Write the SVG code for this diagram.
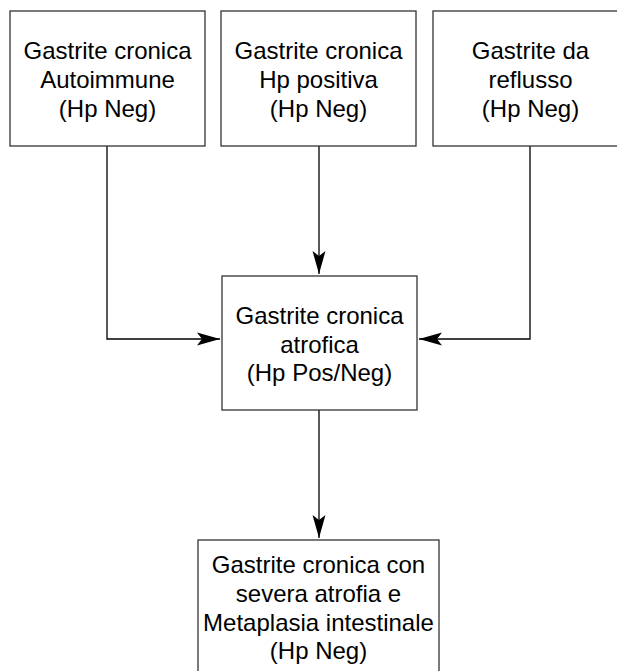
<svg xmlns="http://www.w3.org/2000/svg" width="617" height="671" viewBox="0 0 617 671">
<style>
.box{fill:#fff;stroke:#333;stroke-width:1.3}
.lbl{font-family:"Liberation Sans",Arial,Helvetica,sans-serif;font-size:24px;fill:#000;text-anchor:middle}
.edge{fill:none;stroke:#000;stroke-width:1.3}
</style>
<defs>
<marker id="arr" viewBox="-24 -8 25 16" markerWidth="25" markerHeight="16" refX="0" refY="0" orient="auto" markerUnits="userSpaceOnUse">
<path d="M0,0 L-23,-6.5 L-18,0 L-23,6.5 Z" fill="#000"/>
</marker>
</defs>
<rect width="617" height="671" fill="#fff"/>
<g id="edges">
<path class="edge" d="M107,146 V339 H220" marker-end="url(#arr)"/>
<path class="edge" d="M319,146 V274" marker-end="url(#arr)"/>
<path class="edge" d="M530,146 V339 H419" marker-end="url(#arr)"/>
<path class="edge" d="M319,410 V538" marker-end="url(#arr)"/>
</g>
<g id="n1">
<rect class="box" x="10" y="11" width="195" height="135"/>
<text class="lbl" x="107.5" y="59">Gastrite cronica</text>
<text class="lbl" x="107.5" y="88">Autoimmune</text>
<text class="lbl" x="107.5" y="117">(Hp Neg)</text>
</g>
<g id="n2">
<rect class="box" x="221" y="11" width="195" height="135"/>
<text class="lbl" x="318.5" y="59">Gastrite cronica</text>
<text class="lbl" x="318.5" y="88">Hp positiva</text>
<text class="lbl" x="318.5" y="117">(Hp Neg)</text>
</g>
<g id="n3">
<rect class="box" x="433" y="11" width="195" height="135"/>
<text class="lbl" x="530.5" y="59">Gastrite da</text>
<text class="lbl" x="530.5" y="88">reflusso</text>
<text class="lbl" x="530.5" y="117">(Hp Neg)</text>
</g>
<g id="n4">
<rect class="box" x="222" y="276" width="195" height="134"/>
<text class="lbl" x="319.5" y="324">Gastrite cronica</text>
<text class="lbl" x="319.5" y="353">atrofica</text>
<text class="lbl" x="319.5" y="381">(Hp Pos/Neg)</text>
</g>
<g id="n5">
<rect class="box" x="198" y="540" width="241" height="140"/>
<text class="lbl" x="318.5" y="573">Gastrite cronica con</text>
<text class="lbl" x="318.5" y="602">severa atrofia e</text>
<text class="lbl" x="318.5" y="631">Metaplasia intestinale</text>
<text class="lbl" x="318.5" y="659">(Hp Neg)</text>
</g>
</svg>
